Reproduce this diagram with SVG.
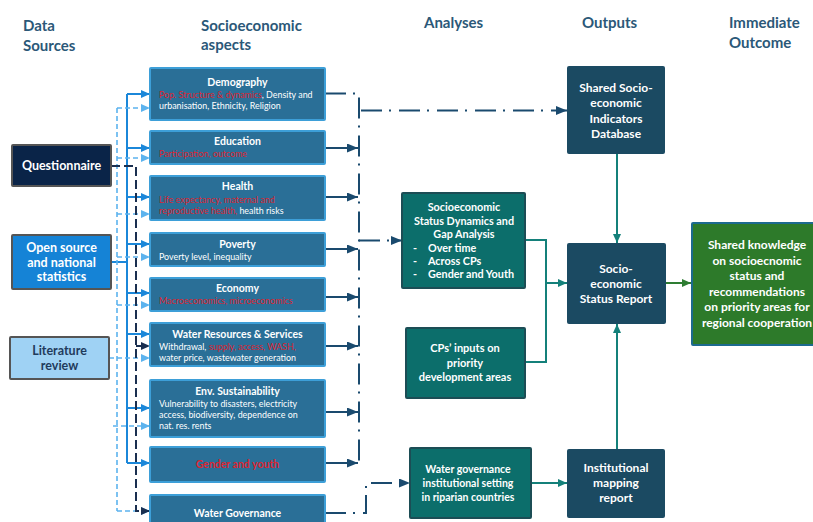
<svg xmlns="http://www.w3.org/2000/svg" width="813" height="522" viewBox="0 0 813 522">
<defs>
<style>
.hdr{font-family:Lato,"Open Sans","Liberation Sans",sans-serif;font-weight:700;font-size:15px;fill:#2b5878}
.t{font-family:Lato,"Open Sans","Liberation Sans",sans-serif;font-weight:700;fill:#fff;text-anchor:middle}
.st{font-family:Lato,"Open Sans","Liberation Sans",sans-serif;font-size:8.9px;fill:#fff}
.sb{fill:#2a6f97;stroke:#3d9fd8;stroke-width:2}
.red{fill:#dc2430}
.ab{fill:#0c6e6b;stroke:#1c4d55;stroke-width:2}
.ob{fill:#1b4a62}
.nav{fill:none;stroke:#1a4a6e;stroke-width:2}
.dd{stroke-dasharray:21 7 2 8}
.blu{fill:none;stroke:#1b87d9;stroke-width:2}
.lt{fill:none;stroke:#5cb3ee;stroke-width:1.6;stroke-dasharray:5 3}
.dk{fill:none;stroke:#1a2f50;stroke-width:2;stroke-dasharray:9 4}
.tl{fill:none;stroke:#14807a;stroke-width:2}
.gr{fill:none;stroke:#2e7d32;stroke-width:2}
</style>
<marker id="aNav" markerUnits="userSpaceOnUse" markerWidth="11" markerHeight="9" refX="11" refY="4.5" orient="auto"><path d="M0,0 L11,4.5 L0,9 z" fill="#1a4a6e"/></marker>
<marker id="aBlu" markerUnits="userSpaceOnUse" markerWidth="9" markerHeight="8" refX="9" refY="4" orient="auto"><path d="M0,0 L9,4 L0,8 z" fill="#1b87d9"/></marker>
<marker id="aLt" markerUnits="userSpaceOnUse" markerWidth="9" markerHeight="8" refX="9" refY="4" orient="auto"><path d="M0,0 L9,4 L0,8 z" fill="#5cb3ee"/></marker>
<marker id="aDk" markerUnits="userSpaceOnUse" markerWidth="9" markerHeight="8" refX="9" refY="4" orient="auto"><path d="M0,0 L9,4 L0,8 z" fill="#1a2f50"/></marker>
<marker id="aTl" markerUnits="userSpaceOnUse" markerWidth="9" markerHeight="8" refX="9" refY="4" orient="auto"><path d="M0,0 L9,4 L0,8 z" fill="#14807a"/></marker>
<marker id="aGr" markerUnits="userSpaceOnUse" markerWidth="9" markerHeight="8" refX="9" refY="4" orient="auto"><path d="M0,0 L9,4 L0,8 z" fill="#2e7d32"/></marker>
</defs>
<rect width="813" height="522" fill="#fff"/>

<g id="headers">
<text class="hdr" x="23" y="31">Data</text>
<text class="hdr" x="23" y="51">Sources</text>
<text class="hdr" x="201" y="31">Socioeconomic</text>
<text class="hdr" x="201" y="50">aspects</text>
<text class="hdr" x="424" y="28">Analyses</text>
<text class="hdr" x="582" y="28">Outputs</text>
<text class="hdr" x="729" y="28">Immediate</text>
<text class="hdr" x="729" y="48">Outcome</text>
</g>

<g id="connectors">
<path class="blu" d="M127,94 V463"/>
<path class="blu" d="M111,262 H127"/>
<path class="blu" d="M127,94 H150" marker-end="url(#aBlu)"/>
<path class="blu" d="M127,148 H150" marker-end="url(#aBlu)"/>
<path class="blu" d="M127,197 H150" marker-end="url(#aBlu)"/>
<path class="blu" d="M127,244 H150" marker-end="url(#aBlu)"/>
<path class="blu" d="M127,293 H150" marker-end="url(#aBlu)"/>
<path class="blu" d="M127,334 H150" marker-end="url(#aBlu)"/>
<path class="blu" d="M127,408 H150" marker-end="url(#aBlu)"/>
<path class="blu" d="M127,463 H150" marker-end="url(#aBlu)"/>

<path class="lt" d="M117,108 V511"/>
<path class="lt" d="M117,108 H150" marker-end="url(#aLt)"/>
<path class="lt" d="M117,158 H150" marker-end="url(#aLt)"/>
<path class="lt" d="M117,214 H150" marker-end="url(#aLt)"/>
<path class="lt" d="M117,257 H150" marker-end="url(#aLt)"/>
<path class="lt" d="M117,305 H150" marker-end="url(#aLt)"/>
<path class="lt" d="M109,358 H150" marker-end="url(#aLt)"/>
<path class="lt" d="M113,426 H150" marker-end="url(#aLt)"/>
<path class="lt" d="M117,511 H150" marker-end="url(#aLt)"/>

<path class="dk" d="M111,166 H136 V511 H150" marker-end="url(#aDk)"/>
<path class="dk" d="M136,346 H150" marker-end="url(#aDk)"/>

<path class="nav dd" d="M325,93.5 H359 V465"/>
<path class="nav dd" d="M361,110.5 H567" marker-end="url(#aNav)"/>
<path class="nav" d="M325,148 H358" marker-end="url(#aNav)"/>
<path class="nav" d="M325,197 H358" marker-end="url(#aNav)"/>
<path class="nav" d="M325,249 H358" marker-end="url(#aNav)"/>
<path class="nav" d="M325,297 H358" marker-end="url(#aNav)"/>
<path class="nav" d="M325,346 H358" marker-end="url(#aNav)"/>
<path class="nav" d="M325,412 H358" marker-end="url(#aNav)"/>
<path class="nav" d="M325,463 H358" marker-end="url(#aNav)"/>
<path class="nav dd" d="M359,240.5 H402" marker-end="url(#aNav)"/>
<path class="nav dd" d="M325,513 H366 V483 H410" marker-end="url(#aNav)"/>

<path class="tl" d="M525,240 H546 V362 H525"/>
<path class="tl" d="M546,283 H567" marker-end="url(#aTl)"/>
<path class="tl" d="M617,154 V243" marker-end="url(#aTl)"/>
<path class="tl" d="M617,449 V324" marker-end="url(#aTl)"/>
<path class="tl" d="M531,483 H567" marker-end="url(#aTl)"/>
<path class="gr" d="M666,283 H691" marker-end="url(#aGr)"/>
</g>

<g id="questionnaire">
<rect x="12" y="145" width="99" height="41" fill="#0a2448" stroke="#555" stroke-width="2" rx="1"/>
<text class="t" x="61.5" y="170" font-size="12.5">Questionnaire</text>
</g>
<g id="open-source">
<rect x="12" y="235" width="99" height="54" fill="#1583d6" stroke="#555" stroke-width="2" rx="1"/>
<text class="t" x="61.5" y="251.5" font-size="12.5">Open source</text>
<text class="t" x="61.5" y="266.5" font-size="12.5">and national</text>
<text class="t" x="61.5" y="281" font-size="12.5">statistics</text>
</g>
<g id="literature">
<rect x="10" y="337" width="99" height="42" fill="#9fd2f4" stroke="#555" stroke-width="2" rx="1"/>
<text class="t" x="59.5" y="355" font-size="12.5" style="fill:#1f3b5c">Literature</text>
<text class="t" x="59.5" y="370" font-size="12.5" style="fill:#1f3b5c">review</text>
</g>

<g id="demography">
<rect class="sb" x="150" y="68" width="175" height="52" rx="1"/>
<text class="t" x="237.5" y="86" font-size="10.5">Demography</text>
<text class="st" x="159" y="97.5"><tspan class="red">Pop. Structure &amp; dynamics</tspan>, Density and</text>
<text class="st" x="159" y="109">urbanisation, Ethnicity, Religion</text>
</g>
<g id="education">
<rect class="sb" x="150" y="131" width="175" height="33" rx="1"/>
<text class="t" x="237.5" y="145" font-size="10.5">Education</text>
<text class="st" x="159" y="157"><tspan class="red">Participation, outcome</tspan></text>
</g>
<g id="health">
<rect class="sb" x="150" y="176" width="175" height="44" rx="1"/>
<text class="t" x="237.5" y="190" font-size="10.5">Health</text>
<text class="st" x="159" y="202.5"><tspan class="red">Life expectancy, maternal and</tspan></text>
<text class="st" x="159" y="214"><tspan class="red">reproductive health,</tspan> health risks</text>
</g>
<g id="poverty">
<rect class="sb" x="150" y="233" width="175" height="33" rx="1"/>
<text class="t" x="237.5" y="247.5" font-size="10.5">Poverty</text>
<text class="st" x="159" y="259.5">Poverty level, inequality</text>
</g>
<g id="economy">
<rect class="sb" x="150" y="278" width="175" height="33" rx="1"/>
<text class="t" x="237.5" y="292" font-size="10.5">Economy</text>
<text class="st" x="159" y="303.5"><tspan class="red">Macroeconomics, microeconomics</tspan></text>
</g>
<g id="water-resources">
<rect class="sb" x="150" y="323" width="175" height="43" rx="1"/>
<text class="t" x="237.5" y="337.5" font-size="10.5">Water Resources &amp; Services</text>
<text class="st" x="159" y="349.5">Withdrawal, <tspan class="red">supply, access, WASH,</tspan></text>
<text class="st" x="159" y="361">water price, wastewater generation</text>
</g>
<g id="env-sustainability">
<rect class="sb" x="150" y="380" width="175" height="57" rx="1"/>
<text class="t" x="237.5" y="394.5" font-size="10.5">Env. Sustainability</text>
<text class="st" x="159" y="406.5">Vulnerability to disasters, electricity</text>
<text class="st" x="159" y="418">access, biodiversity, dependence on</text>
<text class="st" x="159" y="429">nat. res. rents</text>
</g>
<g id="gender-youth">
<rect class="sb" x="150" y="447" width="175" height="35" rx="1"/>
<text class="t" x="237.5" y="467.5" font-size="10.5" style="fill:#dc2430">Gender and youth</text>
</g>
<g id="water-governance">
<rect class="sb" x="150" y="495" width="175" height="30" rx="1"/>
<text class="t" x="237.5" y="516.5" font-size="10.5">Water Governance</text>
</g>

<g id="dynamics-analysis">
<rect class="ab" x="402" y="193" width="123" height="95" rx="1"/>
<text class="t" x="464" y="210.5" font-size="10.8">Socioeconomic</text>
<text class="t" x="464" y="224.5" font-size="10.8">Status Dynamics and</text>
<text class="t" x="464" y="238" font-size="10.8">Gap Analysis</text>
<text class="t" x="413" y="252" font-size="10.8" style="text-anchor:start">-</text>
<text class="t" x="428" y="252" font-size="10.8" style="text-anchor:start">Over time</text>
<text class="t" x="413" y="265" font-size="10.8" style="text-anchor:start">-</text>
<text class="t" x="428" y="265" font-size="10.8" style="text-anchor:start">Across CPs</text>
<text class="t" x="413" y="277.5" font-size="10.8" style="text-anchor:start">-</text>
<text class="t" x="428" y="277.5" font-size="10.8" style="text-anchor:start">Gender  and Youth</text>
</g>
<g id="cps-inputs">
<rect class="ab" x="406" y="328" width="119" height="70" rx="1"/>
<text class="t" x="465" y="352" font-size="11">CPs’ inputs on</text>
<text class="t" x="465" y="366.5" font-size="11">priority</text>
<text class="t" x="465" y="380.5" font-size="11">development areas</text>
</g>
<g id="water-gov-analysis">
<rect class="ab" x="410" y="448" width="121" height="70" rx="1"/>
<text class="t" x="468" y="473" font-size="10.5">Water governance</text>
<text class="t" x="468" y="487" font-size="10.5">institutional setting</text>
<text class="t" x="468" y="501" font-size="10.5">in riparian countries</text>
</g>

<g id="indicators-db">
<rect class="ob" x="567" y="66" width="98" height="88" rx="2"/>
<text class="t" x="616" y="91.5" font-size="12">Shared Socio-</text>
<text class="t" x="616" y="106.5" font-size="12">economic</text>
<text class="t" x="616" y="122.5" font-size="12">Indicators</text>
<text class="t" x="616" y="138" font-size="12">Database</text>
</g>
<g id="status-report">
<rect class="ob" x="567" y="243" width="99" height="81" rx="2"/>
<text class="t" x="616" y="272.5" font-size="12">Socio-</text>
<text class="t" x="616" y="287.5" font-size="12">economic</text>
<text class="t" x="616" y="302.5" font-size="12">Status Report</text>
</g>
<g id="institutional-report">
<rect class="ob" x="567" y="449" width="98" height="69" rx="2"/>
<text class="t" x="616" y="472" font-size="12">Institutional</text>
<text class="t" x="616" y="487" font-size="12">mapping</text>
<text class="t" x="616" y="502" font-size="12">report</text>
</g>

<g id="shared-knowledge">
<rect x="692" y="223" width="130" height="122" fill="#2d7a2a" stroke="#1d6a8e" stroke-width="2" rx="1"/>
<text class="t" x="757" y="249" font-size="12">Shared knowledge</text>
<text class="t" x="757" y="264.5" font-size="12">on socioecnomic</text>
<text class="t" x="757" y="280" font-size="12">status and</text>
<text class="t" x="757" y="295.5" font-size="12">recommendations</text>
<text class="t" x="757" y="311" font-size="12">on priority areas for</text>
<text class="t" x="757" y="326.5" font-size="12">regional cooperation</text>
</g>
</svg>
